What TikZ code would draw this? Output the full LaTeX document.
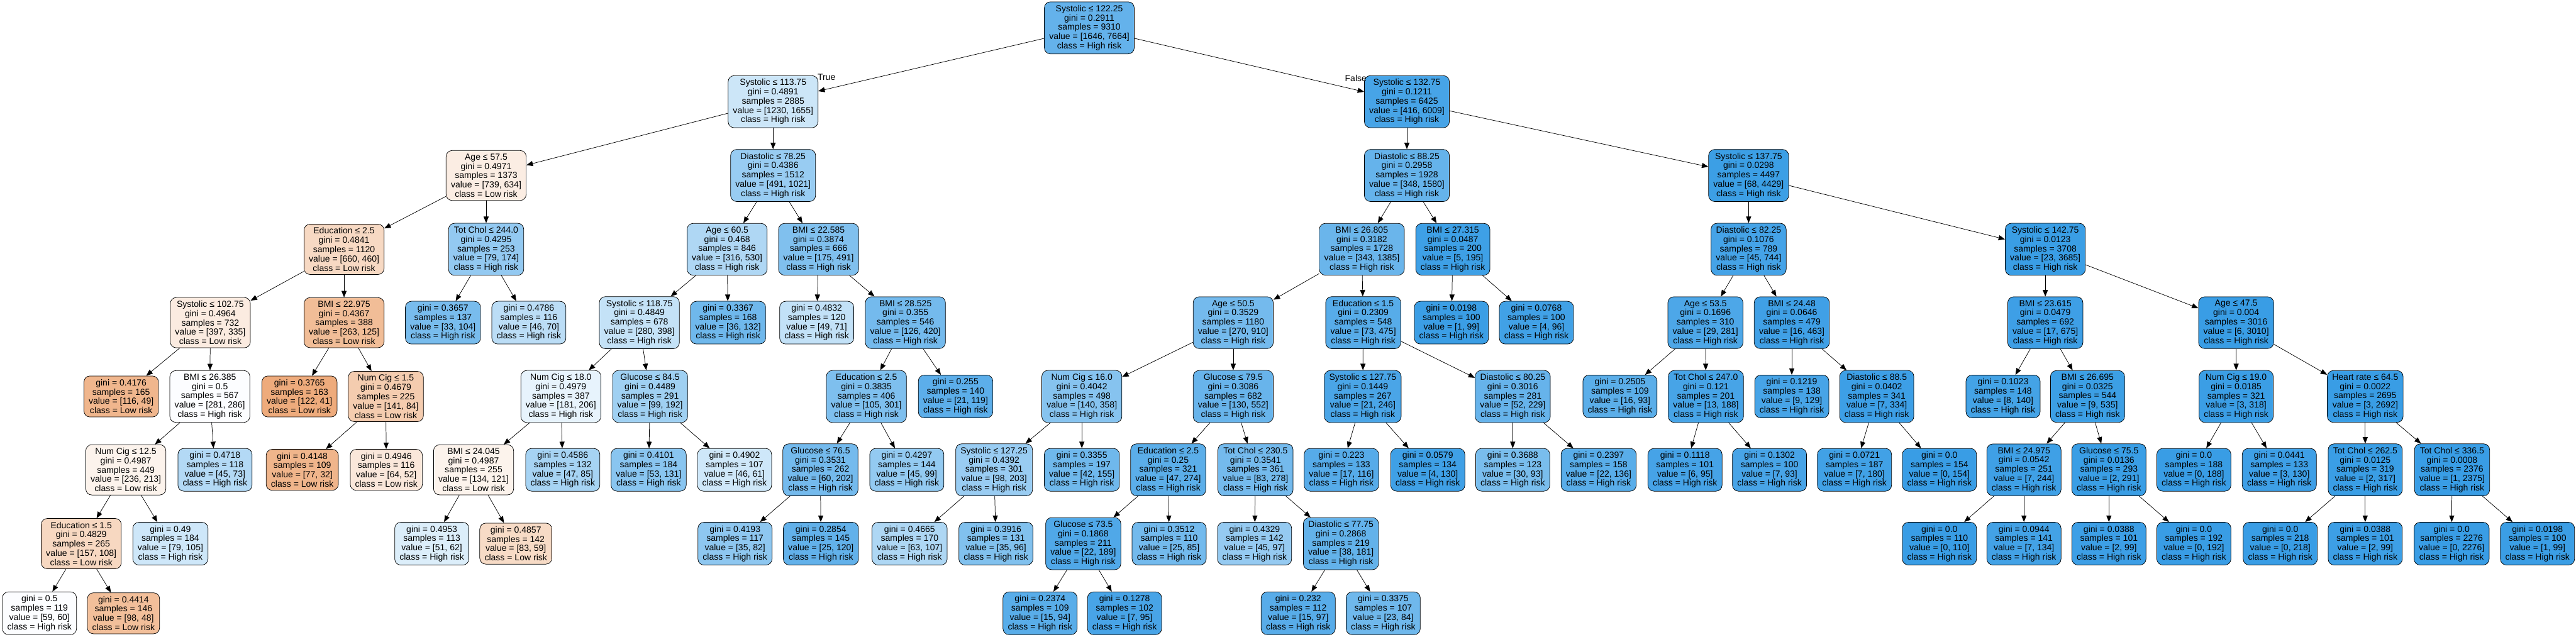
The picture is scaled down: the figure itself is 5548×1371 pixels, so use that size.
\documentclass[tikz,border=0pt]{standalone}
\usepackage{fontspec}
\setmainfont{Liberation Sans}
\usetikzlibrary{arrows.meta}

\definecolor{lowrisk}{RGB}{229,129,57}
\definecolor{highrisk}{RGB}{57,157,229}
\newcommand{\treefont}{\fontsize{9.5}{10}\selectfont}

\tikzset{
  dtnode/.style={draw=black, line width=0.5pt, rounded corners=6.5pt, align=center,
    inner xsep=5.2pt, inner ysep=3.6pt, font=\treefont},
  % fill strength = 1 - minority/majority
  hi/.style 2 args={dtnode, /utils/exec={\pgfmathsetmacro\purity{100*(1-#1/#2)}\colorlet{dtfill}{highrisk!\purity}}, fill=dtfill},
  lo/.style 2 args={dtnode, /utils/exec={\pgfmathsetmacro\purity{100*(1-#2/#1)}\colorlet{dtfill}{lowrisk!\purity}}, fill=dtfill},
  link/.style={-{Triangle[length=7pt,width=5.5pt]}, line width=0.5pt},
  tflabel/.style={font=\treefont, inner sep=0pt},
}

\begin{document}
\begin{tikzpicture}[x=0.5pt, y=-0.5pt]
    \useasboundingbox (0,0) rectangle (5548,1371);

    %% depth 0-3
    \node[hi={1646}{7664}] (t) at (2346,60) {Systolic ≤ 122.25\\gini = 0.2911\\samples = 9310\\value = [1646, 7664]\\class = High risk};
    \node[hi={1230}{1655}] (tL) at (1665,219) {Systolic ≤ 113.75\\gini = 0.4891\\samples = 2885\\value = [1230, 1655]\\class = High risk};
    \node[hi={416}{6009}] (tR) at (3030,219) {Systolic ≤ 132.75\\gini = 0.1211\\samples = 6425\\value = [416, 6009]\\class = High risk};
    \node[lo={739}{634}] (tLL) at (1047,378) {Age ≤ 57.5\\gini = 0.4971\\samples = 1373\\value = [739, 634]\\class = Low risk};
    \node[hi={491}{1021}] (tLR) at (1665,378) {Diastolic ≤ 78.25\\gini = 0.4386\\samples = 1512\\value = [491, 1021]\\class = High risk};
    \node[hi={348}{1580}] (tRL) at (3030,378) {Diastolic ≤ 88.25\\gini = 0.2958\\samples = 1928\\value = [348, 1580]\\class = High risk};
    \node[hi={68}{4429}] (tRR) at (3766,378) {Systolic ≤ 137.75\\gini = 0.0298\\samples = 4497\\value = [68, 4429]\\class = High risk};
    \node[lo={660}{460}] (tLLL) at (741,537) {Education ≤ 2.5\\gini = 0.4841\\samples = 1120\\value = [660, 460]\\class = Low risk};
    \node[hi={79}{174}] (tLLR) at (1047,537) {Tot Chol ≤ 244.0\\gini = 0.4295\\samples = 253\\value = [79, 174]\\class = High risk};
    \node[hi={316}{530}] (tLRL) at (1566,537) {Age ≤ 60.5\\gini = 0.468\\samples = 846\\value = [316, 530]\\class = High risk};
    \node[hi={175}{491}] (tLRR) at (1763,537) {BMI ≤ 22.585\\gini = 0.3874\\samples = 666\\value = [175, 491]\\class = High risk};
    \node[hi={343}{1385}] (tRLL) at (2933,537) {BMI ≤ 26.805\\gini = 0.3182\\samples = 1728\\value = [343, 1385]\\class = High risk};
    \node[hi={5}{195}] (tRLR) at (3129,537) {BMI ≤ 27.315\\gini = 0.0487\\samples = 200\\value = [5, 195]\\class = High risk};
    \node[hi={45}{744}] (tRRL) at (3766,537) {Diastolic ≤ 82.25\\gini = 0.1076\\samples = 789\\value = [45, 744]\\class = High risk};
    \node[hi={23}{3685}] (tRRR) at (4405,537) {Systolic ≤ 142.75\\gini = 0.0123\\samples = 3708\\value = [23, 3685]\\class = High risk};

    %% depth 4
    \node[lo={397}{335}] (tLLLL) at (453,695) {Systolic ≤ 102.75\\gini = 0.4964\\samples = 732\\value = [397, 335]\\class = Low risk};
    \node[lo={263}{125}] (tLLLR) at (741,695) {BMI ≤ 22.975\\gini = 0.4367\\samples = 388\\value = [263, 125]\\class = Low risk};
    \node[hi={33}{104}] (tLLRL) at (954,695) {gini = 0.3657\\samples = 137\\value = [33, 104]\\class = High risk};
    \node[hi={46}{70}] (tLLRR) at (1139,695) {gini = 0.4786\\samples = 116\\value = [46, 70]\\class = High risk};
    \node[hi={280}{398}] (tLRLL) at (1377,695) {Systolic ≤ 118.75\\gini = 0.4849\\samples = 678\\value = [280, 398]\\class = High risk};
    \node[hi={36}{132}] (tLRLR) at (1568,695) {gini = 0.3367\\samples = 168\\value = [36, 132]\\class = High risk};
    \node[hi={49}{71}] (tLRRL) at (1759,695) {gini = 0.4832\\samples = 120\\value = [49, 71]\\class = High risk};
    \node[hi={126}{420}] (tLRRR) at (1950,695) {BMI ≤ 28.525\\gini = 0.355\\samples = 546\\value = [126, 420]\\class = High risk};
    \node[hi={270}{910}] (tRLLL) at (2656,695) {Age ≤ 50.5\\gini = 0.3529\\samples = 1180\\value = [270, 910]\\class = High risk};
    \node[hi={73}{475}] (tRLLR) at (2936,695) {Education ≤ 1.5\\gini = 0.2309\\samples = 548\\value = [73, 475]\\class = High risk};
    \node[hi={1}{99}] (tRLRL) at (3126,695) {gini = 0.0198\\samples = 100\\value = [1, 99]\\class = High risk};
    \node[hi={4}{96}] (tRLRR) at (3309,695) {gini = 0.0768\\samples = 100\\value = [4, 96]\\class = High risk};
    \node[hi={29}{281}] (tRRLL) at (3673,695) {Age ≤ 53.5\\gini = 0.1696\\samples = 310\\value = [29, 281]\\class = High risk};
    \node[hi={16}{463}] (tRRLR) at (3859,695) {BMI ≤ 24.48\\gini = 0.0646\\samples = 479\\value = [16, 463]\\class = High risk};
    \node[hi={17}{675}] (tRRRL) at (4405,695) {BMI ≤ 23.615\\gini = 0.0479\\samples = 692\\value = [17, 675]\\class = High risk};
    \node[hi={6}{3010}] (tRRRR) at (4816,695) {Age ≤ 47.5\\gini = 0.004\\samples = 3016\\value = [6, 3010]\\class = High risk};

    %% depth 5
    \node[lo={116}{49}] (tLLLLL) at (261,854) {gini = 0.4176\\samples = 165\\value = [116, 49]\\class = Low risk};
    \node[hi={281}{286}] (tLLLLR) at (452,854) {BMI ≤ 26.385\\gini = 0.5\\samples = 567\\value = [281, 286]\\class = High risk};
    \node[lo={122}{41}] (tLLLRL) at (645,854) {gini = 0.3765\\samples = 163\\value = [122, 41]\\class = Low risk};
    \node[lo={141}{84}] (tLLLRR) at (831,854) {Num Cig ≤ 1.5\\gini = 0.4679\\samples = 225\\value = [141, 84]\\class = Low risk};
    \node[hi={181}{206}] (tLRLLL) at (1208,854) {Num Cig ≤ 18.0\\gini = 0.4979\\samples = 387\\value = [181, 206]\\class = High risk};
    \node[hi={99}{192}] (tLRLLR) at (1400,854) {Glucose ≤ 84.5\\gini = 0.4489\\samples = 291\\value = [99, 192]\\class = High risk};
    \node[hi={105}{301}] (tLRRRL) at (1866,854) {Education ≤ 2.5\\gini = 0.3835\\samples = 406\\value = [105, 301]\\class = High risk};
    \node[hi={21}{119}] (tLRRRR) at (2058,854) {gini = 0.255\\samples = 140\\value = [21, 119]\\class = High risk};
    \node[hi={140}{358}] (tRLLLL) at (2330,854) {Num Cig ≤ 16.0\\gini = 0.4042\\samples = 498\\value = [140, 358]\\class = High risk};
    \node[hi={130}{552}] (tRLLLR) at (2656,854) {Glucose ≤ 79.5\\gini = 0.3086\\samples = 682\\value = [130, 552]\\class = High risk};
    \node[hi={21}{246}] (tRLLRL) at (2935,854) {Systolic ≤ 127.75\\gini = 0.1449\\samples = 267\\value = [21, 246]\\class = High risk};
    \node[hi={52}{229}] (tRLLRR) at (3258,854) {Diastolic ≤ 80.25\\gini = 0.3016\\samples = 281\\value = [52, 229]\\class = High risk};
    \node[hi={16}{93}] (tRRLLL) at (3489,854) {gini = 0.2505\\samples = 109\\value = [16, 93]\\class = High risk};
    \node[hi={13}{188}] (tRRLLR) at (3674,854) {Tot Chol ≤ 247.0\\gini = 0.121\\samples = 201\\value = [13, 188]\\class = High risk};
    \node[hi={9}{129}] (tRRLRL) at (3859,854) {gini = 0.1219\\samples = 138\\value = [9, 129]\\class = High risk};
    \node[hi={7}{334}] (tRRLRR) at (4042,854) {Diastolic ≤ 88.5\\gini = 0.0402\\samples = 341\\value = [7, 334]\\class = High risk};
    \node[hi={8}{140}] (tRRRLL) at (4314,854) {gini = 0.1023\\samples = 148\\value = [8, 140]\\class = High risk};
    \node[hi={9}{535}] (tRRRLR) at (4496,854) {BMI ≤ 26.695\\gini = 0.0325\\samples = 544\\value = [9, 535]\\class = High risk};
    \node[hi={3}{318}] (tRRRRL) at (4816,854) {Num Cig ≤ 19.0\\gini = 0.0185\\samples = 321\\value = [3, 318]\\class = High risk};
    \node[hi={3}{2692}] (tRRRRR) at (5094,854) {Heart rate ≤ 64.5\\gini = 0.0022\\samples = 2695\\value = [3, 2692]\\class = High risk};

    %% depth 6
    \node[lo={236}{213}] (tLLLLRL) at (271,1012) {Num Cig ≤ 12.5\\gini = 0.4987\\samples = 449\\value = [236, 213]\\class = Low risk};
    \node[hi={45}{73}] (tLLLLRR) at (463,1012) {gini = 0.4718\\samples = 118\\value = [45, 73]\\class = High risk};
    \node[lo={77}{32}] (tLLLRRL) at (651,1012) {gini = 0.4148\\samples = 109\\value = [77, 32]\\class = Low risk};
    \node[lo={64}{52}] (tLLLRRR) at (832,1012) {gini = 0.4946\\samples = 116\\value = [64, 52]\\class = Low risk};
    \node[lo={134}{121}] (tLRLLLL) at (1020,1012) {BMI ≤ 24.045\\gini = 0.4987\\samples = 255\\value = [134, 121]\\class = Low risk};
    \node[hi={47}{85}] (tLRLLLR) at (1212,1012) {gini = 0.4586\\samples = 132\\value = [47, 85]\\class = High risk};
    \node[hi={53}{131}] (tLRLLRL) at (1397,1012) {gini = 0.4101\\samples = 184\\value = [53, 131]\\class = High risk};
    \node[hi={46}{61}] (tLRLLRR) at (1582,1012) {gini = 0.4902\\samples = 107\\value = [46, 61]\\class = High risk};
    \node[hi={60}{202}] (tLRRRLL) at (1767,1012) {Glucose ≤ 76.5\\gini = 0.3531\\samples = 262\\value = [60, 202]\\class = High risk};
    \node[hi={45}{99}] (tLRRRLR) at (1953,1012) {gini = 0.4297\\samples = 144\\value = [45, 99]\\class = High risk};
    \node[hi={98}{203}] (tRLLLLL) at (2141,1012) {Systolic ≤ 127.25\\gini = 0.4392\\samples = 301\\value = [98, 203]\\class = High risk};
    \node[hi={42}{155}] (tRLLLLR) at (2330,1012) {gini = 0.3355\\samples = 197\\value = [42, 155]\\class = High risk};
    \node[hi={47}{274}] (tRLLLRL) at (2516,1012) {Education ≤ 2.5\\gini = 0.25\\samples = 321\\value = [47, 274]\\class = High risk};
    \node[hi={83}{278}] (tRLLLRR) at (2704,1012) {Tot Chol ≤ 230.5\\gini = 0.3541\\samples = 361\\value = [83, 278]\\class = High risk};
    \node[hi={17}{116}] (tRLLRLL) at (2889,1012) {gini = 0.223\\samples = 133\\value = [17, 116]\\class = High risk};
    \node[hi={4}{130}] (tRLLRLR) at (3075,1012) {gini = 0.0579\\samples = 134\\value = [4, 130]\\class = High risk};
    \node[hi={30}{93}] (tRLLRRL) at (3258,1012) {gini = 0.3688\\samples = 123\\value = [30, 93]\\class = High risk};
    \node[hi={22}{136}] (tRLLRRR) at (3443,1012) {gini = 0.2397\\samples = 158\\value = [22, 136]\\class = High risk};
    \node[hi={6}{95}] (tRRLLRL) at (3629,1012) {gini = 0.1118\\samples = 101\\value = [6, 95]\\class = High risk};
    \node[hi={7}{93}] (tRRLLRR) at (3811,1012) {gini = 0.1302\\samples = 100\\value = [7, 93]\\class = High risk};
    \node[hi={7}{180}] (tRRLRRL) at (3994,1012) {gini = 0.0721\\samples = 187\\value = [7, 180]\\class = High risk};
    \node[hi={0}{154}] (tRRLRRR) at (4177,1012) {gini = 0.0\\samples = 154\\value = [0, 154]\\class = High risk};
    \node[hi={7}{244}] (tRRRLRL) at (4359,1012) {BMI ≤ 24.975\\gini = 0.0542\\samples = 251\\value = [7, 244]\\class = High risk};
    \node[hi={2}{291}] (tRRRLRR) at (4542,1012) {Glucose ≤ 75.5\\gini = 0.0136\\samples = 293\\value = [2, 291]\\class = High risk};
    \node[hi={0}{188}] (tRRRRLL) at (4725,1012) {gini = 0.0\\samples = 188\\value = [0, 188]\\class = High risk};
    \node[hi={3}{130}] (tRRRRLR) at (4909,1012) {gini = 0.0441\\samples = 133\\value = [3, 130]\\class = High risk};
    \node[hi={2}{317}] (tRRRRRL) at (5094,1012) {Tot Chol ≤ 262.5\\gini = 0.0125\\samples = 319\\value = [2, 317]\\class = High risk};
    \node[hi={1}{2375}] (tRRRRRR) at (5281,1012) {Tot Chol ≤ 336.5\\gini = 0.0008\\samples = 2376\\value = [1, 2375]\\class = High risk};

    %% depth 7
    \node[lo={157}{108}] (tLLLLRLL) at (175,1171) {Education ≤ 1.5\\gini = 0.4829\\samples = 265\\value = [157, 108]\\class = Low risk};
    \node[hi={79}{105}] (tLLLLRLR) at (367,1171) {gini = 0.49\\samples = 184\\value = [79, 105]\\class = High risk};
    \node[hi={51}{62}] (tLRLLLLL) at (930,1171) {gini = 0.4953\\samples = 113\\value = [51, 62]\\class = High risk};
    \node[lo={83}{59}] (tLRLLLLR) at (1111,1171) {gini = 0.4857\\samples = 142\\value = [83, 59]\\class = Low risk};
    \node[hi={35}{82}] (tLRRRLLL) at (1583,1171) {gini = 0.4193\\samples = 117\\value = [35, 82]\\class = High risk};
    \node[hi={25}{120}] (tLRRRLLR) at (1768,1171) {gini = 0.2854\\samples = 145\\value = [25, 120]\\class = High risk};
    \node[hi={63}{107}] (tRLLLLLL) at (1959,1171) {gini = 0.4665\\samples = 170\\value = [63, 107]\\class = High risk};
    \node[hi={35}{96}] (tRLLLLLR) at (2145,1171) {gini = 0.3916\\samples = 131\\value = [35, 96]\\class = High risk};
    \node[hi={22}{189}] (tRLLLRLL) at (2333,1171) {Glucose ≤ 73.5\\gini = 0.1868\\samples = 211\\value = [22, 189]\\class = High risk};
    \node[hi={25}{85}] (tRLLLRLR) at (2518,1171) {gini = 0.3512\\samples = 110\\value = [25, 85]\\class = High risk};
    \node[hi={45}{97}] (tRLLLRRL) at (2702,1171) {gini = 0.4329\\samples = 142\\value = [45, 97]\\class = High risk};
    \node[hi={38}{181}] (tRLLLRRR) at (2888,1171) {Diastolic ≤ 77.75\\gini = 0.2868\\samples = 219\\value = [38, 181]\\class = High risk};
    \node[hi={0}{110}] (tRRRLRLL) at (4177,1171) {gini = 0.0\\samples = 110\\value = [0, 110]\\class = High risk};
    \node[hi={7}{134}] (tRRRLRLR) at (4359,1171) {gini = 0.0944\\samples = 141\\value = [7, 134]\\class = High risk};
    \node[hi={2}{99}] (tRRRLRRL) at (4542,1171) {gini = 0.0388\\samples = 101\\value = [2, 99]\\class = High risk};
    \node[hi={0}{192}] (tRRRLRRR) at (4725,1171) {gini = 0.0\\samples = 192\\value = [0, 192]\\class = High risk};
    \node[hi={0}{218}] (tRRRRRLL) at (4911,1171) {gini = 0.0\\samples = 218\\value = [0, 218]\\class = High risk};
    \node[hi={2}{99}] (tRRRRRLR) at (5094,1171) {gini = 0.0388\\samples = 101\\value = [2, 99]\\class = High risk};
    \node[hi={0}{2276}] (tRRRRRRL) at (5280,1171) {gini = 0.0\\samples = 2276\\value = [0, 2276]\\class = High risk};
    \node[hi={1}{99}] (tRRRRRRR) at (5465,1171) {gini = 0.0198\\samples = 100\\value = [1, 99]\\class = High risk};

    %% depth 8
    \node[hi={59}{60}] (tLLLLRLLL) at (85,1321) {gini = 0.5\\samples = 119\\value = [59, 60]\\class = High risk};
    \node[lo={98}{48}] (tLLLLRLLR) at (266,1321) {gini = 0.4414\\samples = 146\\value = [98, 48]\\class = Low risk};
    \node[hi={15}{94}] (tRLLLRLLL) at (2240,1321) {gini = 0.2374\\samples = 109\\value = [15, 94]\\class = High risk};
    \node[hi={7}{95}] (tRLLLRLLR) at (2422,1321) {gini = 0.1278\\samples = 102\\value = [7, 95]\\class = High risk};
    \node[hi={15}{97}] (tRLLLRRRL) at (2796,1321) {gini = 0.232\\samples = 112\\value = [15, 97]\\class = High risk};
    \node[hi={23}{84}] (tRLLLRRRR) at (2979,1321) {gini = 0.3375\\samples = 107\\value = [23, 84]\\class = High risk};

    %% edges
    \foreach \p/\c in {t/tL, t/tR, tL/tLL, tL/tLR, tR/tRL, tR/tRR,
        tLL/tLLL, tLL/tLLR, tLR/tLRL, tLR/tLRR, tRL/tRLL, tRL/tRLR, tRR/tRRL, tRR/tRRR,
        tLLL/tLLLL, tLLL/tLLLR, tLLR/tLLRL, tLLR/tLLRR, tLRL/tLRLL, tLRL/tLRLR, tLRR/tLRRL, tLRR/tLRRR,
        tRLL/tRLLL, tRLL/tRLLR, tRLR/tRLRL, tRLR/tRLRR, tRRL/tRRLL, tRRL/tRRLR, tRRR/tRRRL, tRRR/tRRRR,
        tLLLL/tLLLLL, tLLLL/tLLLLR, tLLLR/tLLLRL, tLLLR/tLLLRR, tLRLL/tLRLLL, tLRLL/tLRLLR,
        tLRRR/tLRRRL, tLRRR/tLRRRR, tRLLL/tRLLLL, tRLLL/tRLLLR, tRLLR/tRLLRL, tRLLR/tRLLRR,
        tRRLL/tRRLLL, tRRLL/tRRLLR, tRRLR/tRRLRL, tRRLR/tRRLRR, tRRRL/tRRRLL, tRRRL/tRRRLR,
        tRRRR/tRRRRL, tRRRR/tRRRRR,
        tLLLLR/tLLLLRL, tLLLLR/tLLLLRR, tLLLRR/tLLLRRL, tLLLRR/tLLLRRR, tLRLLL/tLRLLLL, tLRLLL/tLRLLLR,
        tLRLLR/tLRLLRL, tLRLLR/tLRLLRR, tLRRRL/tLRRRLL, tLRRRL/tLRRRLR, tRLLLL/tRLLLLL, tRLLLL/tRLLLLR,
        tRLLLR/tRLLLRL, tRLLLR/tRLLLRR, tRLLRL/tRLLRLL, tRLLRL/tRLLRLR, tRLLRR/tRLLRRL, tRLLRR/tRLLRRR,
        tRRLLR/tRRLLRL, tRRLLR/tRRLLRR, tRRLRR/tRRLRRL, tRRLRR/tRRLRRR, tRRRLR/tRRRLRL, tRRRLR/tRRRLRR,
        tRRRRL/tRRRRLL, tRRRRL/tRRRRLR, tRRRRR/tRRRRRL, tRRRRR/tRRRRRR,
        tLLLLRL/tLLLLRLL, tLLLLRL/tLLLLRLR, tLRLLLL/tLRLLLLL, tLRLLLL/tLRLLLLR,
        tLRRRLL/tLRRRLLL, tLRRRLL/tLRRRLLR, tRLLLLL/tRLLLLLL, tRLLLLL/tRLLLLLR,
        tRLLLRL/tRLLLRLL, tRLLLRL/tRLLLRLR, tRLLLRR/tRLLLRRL, tRLLLRR/tRLLLRRR,
        tRRRLRL/tRRRLRLL, tRRRLRL/tRRRLRLR, tRRRLRR/tRRRLRRL, tRRRLRR/tRRRLRRR,
        tRRRRRL/tRRRRRLL, tRRRRRL/tRRRRRLR, tRRRRRR/tRRRRRRL, tRRRRRR/tRRRRRRR,
        tLLLLRLL/tLLLLRLLL, tLLLLRLL/tLLLLRLLR, tRLLLRLL/tRLLLRLLL, tRLLLRLL/tRLLLRLLR,
        tRLLLRRR/tRLLLRRRL, tRLLLRRR/tRLLLRRRR}
        \draw[link] (\p) -- (\c);

    \node[tflabel] (ltrue) at (1780,166) {True};
    \node[tflabel] (lfalse) at (2920,168) {False};
\end{tikzpicture}
\end{document}
